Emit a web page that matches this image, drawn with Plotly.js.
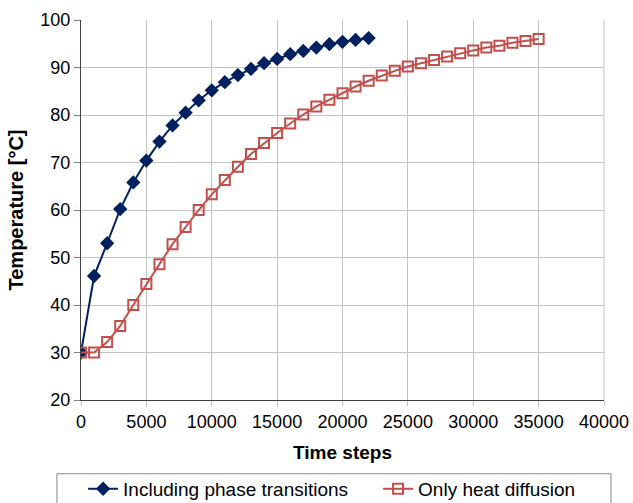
<!DOCTYPE html>
<html>
<head>
<meta charset="utf-8">
<script src="https://cdn.plot.ly/plotly-3.0.1.min.js"></script>
<style>
  html, body { margin: 0; padding: 0; background: #fff; }
  #chart { width: 633px; height: 503px; }
</style>
</head>
<body>
<div id="chart"></div>
<script>
// Time steps for each series
const stepsPhase = [0, 1000, 2000, 3000, 4000, 5000, 6000, 7000, 8000, 9000, 10000,
  11000, 12000, 13000, 14000, 15000, 16000, 17000, 18000, 19000, 20000, 21000, 22000];
const tempPhase = [30.0, 46.1, 53.0, 60.2, 65.8, 70.4, 74.4, 77.8, 80.5, 83.1, 85.2,
  86.9, 88.4, 89.7, 90.9, 91.8, 92.8, 93.5, 94.2, 94.9, 95.4, 95.8, 96.2];

const stepsDiffusion = [0, 1000, 2000, 3000, 4000, 5000, 6000, 7000, 8000, 9000, 10000,
  11000, 12000, 13000, 14000, 15000, 16000, 17000, 18000, 19000, 20000, 21000, 22000,
  23000, 24000, 25000, 26000, 27000, 28000, 29000, 30000, 31000, 32000, 33000, 34000, 35000];
const tempDiffusion = [30.0, 30.0, 32.2, 35.6, 40.0, 44.4, 48.6, 52.8, 56.4, 60.0, 63.3,
  66.3, 69.1, 71.8, 74.1, 76.2, 78.2, 80.1, 81.8, 83.2, 84.6, 86.0, 87.2,
  88.3, 89.3, 90.2, 90.9, 91.6, 92.3, 93.0, 93.6, 94.2, 94.6, 95.2, 95.6, 96.0];

const seriesNames = ['Including phase transitions', 'Only heat diffusion'];
const xTitle = 'Time steps';
const yTitle = 'Temperature [°C]';

const FONT = 'Liberation Sans, Arial, sans-serif';
const GRID = '#c3c3c3';

const traces = [
  {
    x: stepsPhase, y: tempPhase, name: seriesNames[0], legend: 'legend',
    type: 'scatter', mode: 'lines+markers',
    line: { color: '#002060', width: 2 },
    marker: { symbol: 'diamond', size: 11, color: '#002060' }
  },
  {
    x: stepsDiffusion, y: tempDiffusion, name: seriesNames[1], legend: 'legend2',
    type: 'scatter', mode: 'lines+markers',
    line: { color: '#C0504D', width: 2 },
    marker: { symbol: 'square-open', size: 10, color: '#C0504D', line: { width: 2, color: '#C0504D' } }
  }
];

// one legend per series so both entries sit on a single row inside the shared frame
const legendStyle = {
  orientation: 'h', xanchor: 'left', yanchor: 'top', y: -0.184,
  borderwidth: 0, bgcolor: 'rgba(0,0,0,0)',
  font: { size: 19, family: FONT, color: '#000' }
};

const layout = {
  width: 633, height: 503,
  paper_bgcolor: '#fff', plot_bgcolor: '#fff',
  font: { family: FONT, size: 18, color: '#000' },
  margin: { l: 81, r: 29, t: 20, b: 103, autoexpand: false },
  showlegend: true,
  xaxis: {
    range: [0, 40000], dtick: 5000, tick0: 0, tickformat: 'd',
    showgrid: true, gridcolor: GRID, gridwidth: 1,
    showline: true, linecolor: '#404040', linewidth: 1,
    ticks: 'outside', ticklen: 5, tickcolor: GRID,
    zeroline: false, tickfont: { size: 18 },
    title: { text: xTitle, font: { size: 19, family: FONT, weight: 'bold' }, standoff: 15 }
  },
  yaxis: {
    range: [20, 100], dtick: 10, tick0: 20,
    showgrid: true, gridcolor: GRID, gridwidth: 1,
    showline: true, linecolor: '#404040', linewidth: 1,
    ticks: 'outside', ticklen: 6, tickcolor: '#808080',
    zeroline: false, tickfont: { size: 18 },
    title: { text: yTitle, font: { size: 20, family: FONT, weight: 'bold' }, standoff: 11 }
  },
  shapes: [
    // right edge of the plotting area
    { type: 'line', xref: 'paper', yref: 'paper', x0: 1, x1: 1, y0: 0, y1: 1,
      line: { color: GRID, width: 1 } },
    // legend frame
    { type: 'rect', xref: 'paper', yref: 'paper', x0: -0.046, x1: 1.0134, y0: -0.194, y1: -0.35,
      line: { color: '#888888', width: 1 }, fillcolor: 'rgba(0,0,0,0)' }
  ],
  legend: Object.assign({ x: 0.004 }, legendStyle),
  legend2: Object.assign({ x: 0.568 }, legendStyle)
};

Plotly.newPlot('chart', traces, layout, { displayModeBar: false, staticPlot: true });
</script>
</body>
</html>
